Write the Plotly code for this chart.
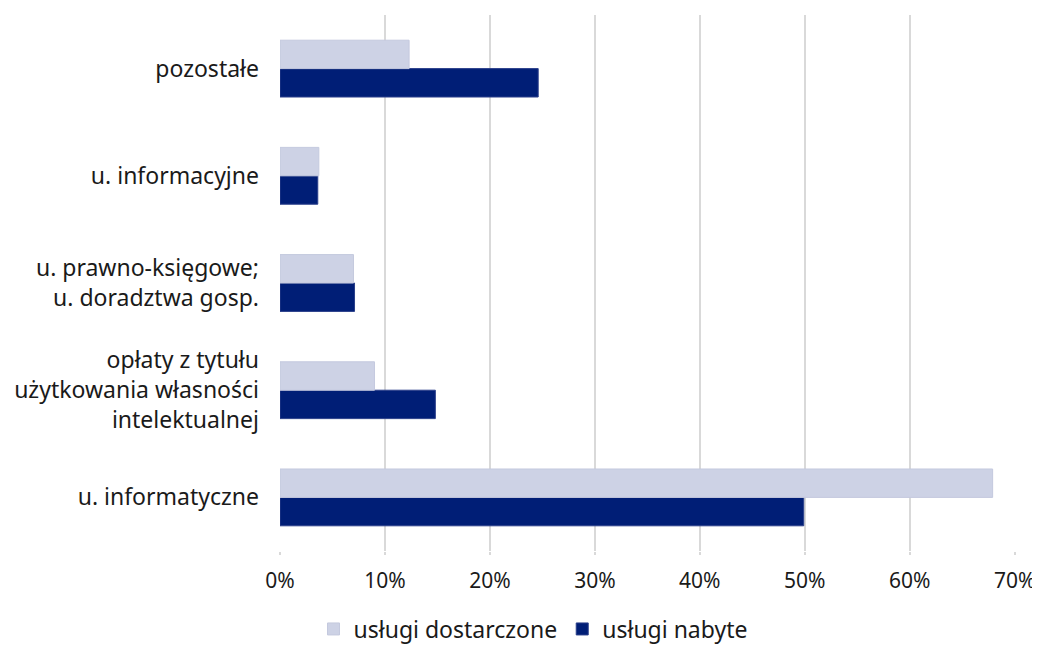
import plotly.graph_objects as go

categories = ["u. informatyczne",
              "opłaty z tytułu<br>użytkowania własności<br>intelektualnej",
              "u. prawno-księgowe;<br>u. doradztwa gosp.",
              "u. informacyjne",
              "pozostałe"]
dostarczone = [67.9, 9.0, 7.0, 3.7, 12.3]
nabyte = [49.9, 14.8, 7.1, 3.6, 24.6]
tick_vals = [0, 10, 20, 30, 40, 50, 60, 70]
tick_text = ["0%", "10%", "20%", "30%", "40%", "50%", "60%", "70%"]

FONT = "Noto Sans"
# page body has an 8px margin: shrink the figure so it fits the 1040x646 window
W, H, OFF = 1040, 646, 8
FH = H - OFF
fig = go.Figure()
fig.add_trace(go.Bar(y=categories, x=nabyte, orientation="h", name="usługi nabyte",
                     marker=dict(color="#001E76", line=dict(color="#2A3F8A", width=1))))
fig.add_trace(go.Bar(y=categories, x=dostarczone, orientation="h", name="usługi dostarczone",
                     marker=dict(color="#CDD2E5", line=dict(color="#C4C9DE", width=1))))

fig.update_layout(
    width=W - OFF, height=FH,
    margin=dict(l=280 - OFF, r=25, t=15 - OFF, b=H - 551, pad=0, autoexpand=False),
    plot_bgcolor="white", paper_bgcolor="white",
    barmode="group", bargap=0.47, bargroupgap=0,
    font=dict(family=FONT, size=22, color="#1a1a1a"),
    xaxis=dict(range=[0, 70.03], tickvals=tick_vals, ticktext=tick_text,
               showgrid=True, gridcolor="#D9D9D9", gridwidth=2,
               zeroline=False, ticks="outside", ticklen=3, tickwidth=2,
               tickcolor="#D9D9D9", ticklabelstandoff=8,
               tickfont=dict(size=21), automargin=False),
    yaxis=dict(showgrid=False, ticks="", ticklabelstandoff=20,
               tickfont=dict(size=23), automargin=False),
    legend=dict(orientation="h", xref="container", x=(533 - OFF) / (W - OFF), xanchor="center",
                yref="container", y=(H - 629) / FH, yanchor="middle",
                traceorder="reversed", font=dict(size=23), itemwidth=30),
    showlegend=True,
)
fig.write_html("out.html")
